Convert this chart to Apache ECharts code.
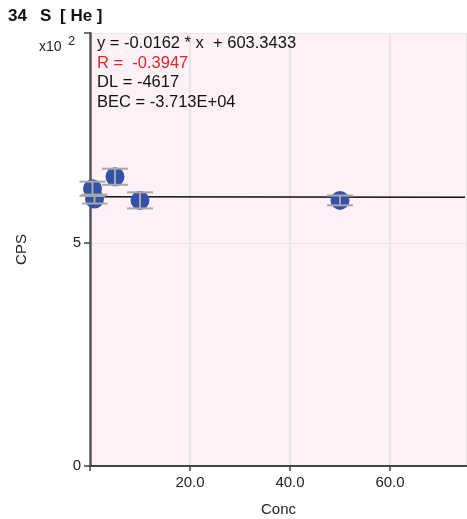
<!DOCTYPE html>
<html><head><meta charset="utf-8">
<style>html,body{margin:0;padding:0;background:#fff}#c{width:467px;height:519px}</style>
<script src="https://cdn.jsdelivr.net/npm/echarts@6/dist/echarts.min.js"></script>
</head><body><div id="c"></div>
<script>
var concX = [0.5, 0.9, 5, 10, 50];
var cpsY = [621, 598, 648, 595, 595];
var errY = [16, 10, 18, 18, 11];
var fitX = [0, 75];
var fitY = [603.3, 602.1];
var yTicks = ['0', '5'];
var annot = ['y = -0.0162 * x  + 603.3433', 'R =  -0.3947', 'DL = -4617', 'BEC = -3.713E+04'];

var font = '"Liberation Sans", Arial, sans-serif';
var chart = echarts.init(document.getElementById('c'));
var pts = concX.map(function(x, i){ return [x, cpsY[i]]; });
var errs = concX.map(function(x, i){ return [x, cpsY[i] - errY[i], cpsY[i] + errY[i]]; });
var fit = fitX.map(function(x, i){ return [x, fitY[i]]; });

chart.setOption({
  animation: false,
  grid: {left: 90, top: 33, right: 0, bottom: 53, show: true, backgroundColor: '#fdf0f6', borderWidth: 0,
    outerBoundsMode: 'none', containLabel: false},
  xAxis: {
    type: 'value', min: 0, max: 75.4, interval: 20,
    axisLine: {show: true, onZero: false, lineStyle: {color: '#444', width: 2}},
    axisTick: {show: true, length: 5, lineStyle: {color: '#444', width: 1.5}},
    axisLabel: {color: '#222', fontSize: 15, fontFamily: font, margin: 9, showMaxLabel: false,
      formatter: function(v){ return (v === 0 || v > 70) ? '' : v.toFixed(1); }},
    splitLine: {show: true, lineStyle: {color: '#e2e0e1', width: 1.5}},
    name: 'Conc', nameLocation: 'middle', nameGap: 36,
    nameTextStyle: {color: '#222', fontSize: 15, fontFamily: font}
  },
  yAxis: {
    type: 'value', min: 0, max: 970, interval: 500,
    axisLine: {show: true, onZero: false, lineStyle: {color: '#555', width: 2.5}},
    axisTick: {show: true, length: 6, lineStyle: {color: '#444', width: 1.5}},
    axisLabel: {color: '#222', fontSize: 15, fontFamily: font, margin: 9,
      formatter: function(v){ return yTicks[Math.round(v / 500)]; }},
    splitLine: {show: true, lineStyle: {color: '#ebe6e8', width: 1}},
    name: 'CPS', nameLocation: 'middle', nameGap: 61, nameRotate: 90,
    nameTextStyle: {color: '#222', fontSize: 15, fontFamily: font}
  },
  series: [
    {type: 'line', data: fit, symbol: 'none', lineStyle: {color: '#111', width: 1.5}, z: 2, silent: true},
    {type: 'scatter', data: pts, symbolSize: 19,
      itemStyle: {color: '#3451a9', borderWidth: 0, opacity: 1},
      z: 3},
    {type: 'custom', data: errs, z: 4,
      renderItem: function(params, api){
        var x = api.value(0), lo = api.value(1), hi = api.value(2);
        var pL = api.coord([x, lo]), pH = api.coord([x, hi]);
        var w = 13;
        var st = {stroke: '#a8a8a8', lineWidth: 2};
        return {type: 'group', children: [
          {type: 'line', shape: {x1: pL[0], y1: pL[1], x2: pH[0], y2: pH[1]}, style: st},
          {type: 'line', shape: {x1: pL[0]-w, y1: pL[1], x2: pL[0]+w, y2: pL[1]}, style: st},
          {type: 'line', shape: {x1: pH[0]-w, y1: pH[1], x2: pH[0]+w, y2: pH[1]}, style: st}
        ]};
      }}
  ],
  graphic: [
    {type: 'text', left: 8, top: 8, z: 10, style: {text: '34', font: 'bold 17px ' + font, fill: '#111'}},
    {type: 'text', left: 40, top: 8, z: 10, style: {text: 'S', font: 'bold 17px ' + font, fill: '#111'}},
    {type: 'text', left: 60, top: 8, z: 10, style: {text: '[ He ]', font: 'bold 17px ' + font, fill: '#111'}},
    {type: 'text', left: 39, top: 40, z: 10, style: {text: 'x10', font: '14px ' + font, fill: '#222'}},
    {type: 'text', left: 68, top: 35, z: 10, style: {text: '2', font: '13px ' + font, fill: '#222'}},
    {type: 'text', left: 97, top: 35, z: 10, style: {text: annot[0], font: '16.5px ' + font, fill: '#111'}},
    {type: 'text', left: 97, top: 55, z: 10, style: {text: annot[1], font: '16.5px ' + font, fill: '#e8242a'}},
    {type: 'text', left: 97, top: 74, z: 10, style: {text: annot[2], font: '16.5px ' + font, fill: '#111'}},
    {type: 'text', left: 97, top: 94, z: 10, style: {text: annot[3], font: '16.5px ' + font, fill: '#111'}}
  ]
});
</script></body></html>
